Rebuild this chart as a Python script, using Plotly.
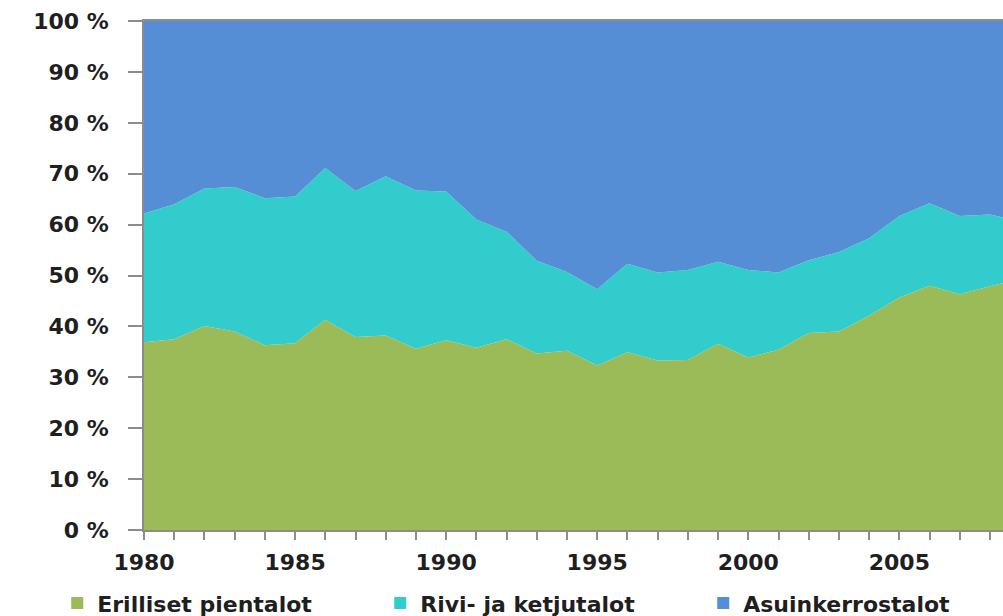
import plotly.graph_objects as go

years = list(range(1980, 2010))
erilliset = [36.9, 37.5, 40.1, 39.0, 36.3, 36.7, 41.3, 37.9, 38.2, 35.6,
             37.3, 35.8, 37.5, 34.7, 35.2, 32.3, 34.9, 33.3, 33.4, 36.6,
             33.9, 35.4, 38.7, 39.0, 42.1, 45.7, 48.0, 46.3, 47.9, 49.2]
rivi = [25.3, 26.5, 27.0, 28.4, 28.9, 28.8, 29.8, 28.7, 31.3, 31.1,
        29.2, 25.2, 21.1, 18.2, 15.5, 15.0, 17.4, 17.3, 17.7, 16.1,
        17.2, 15.2, 14.3, 15.6, 15.2, 16.0, 16.2, 15.4, 14.1, 11.4]
kerros = [37.8, 36.0, 32.9, 32.6, 34.8, 34.5, 28.9, 33.4, 30.5, 33.3,
          33.5, 39.0, 41.4, 47.1, 49.3, 52.7, 47.7, 49.4, 48.9, 47.3,
          48.9, 49.4, 47.0, 45.4, 42.7, 38.3, 35.8, 38.3, 38.0, 39.4]

series_names = ["Erilliset pientalot", "Rivi- ja ketjutalot", "Asuinkerrostalot"]
series_colors = ["#9BBB59", "#33CCCC", "#558ED5"]
y_tickvals = list(range(0, 101, 10))
y_ticktext = [f"{v} %" for v in y_tickvals]

AXIS_GRAY = "#8c8c8c"
FONT = dict(family="DejaVu Sans", size=22, color="#1f1f1f", weight="bold")

fig = go.Figure()
for i, (name, vals, col) in enumerate(zip(series_names, [erilliset, rivi, kerros], series_colors)):
    kw = dict(groupnorm="percent") if i == 0 else {}
    fig.add_trace(go.Scatter(
        x=years, y=vals, name=name, stackgroup="one", mode="none",
        fillcolor=col, line=dict(width=0), showlegend=False,
        hoverinfo="x+y+name", **kw))

for name, col in zip(series_names, series_colors):
    fig.add_trace(go.Scatter(
        x=[None], y=[None], mode="markers", name=name,
        marker=dict(symbol="square", size=16, color=col)))

fig.update_layout(
    width=1003, height=616,
    margin=dict(l=144, r=0, t=21, b=86, autoexpand=False),
    plot_bgcolor="white", paper_bgcolor="white",
    font=FONT,
    xaxis=dict(
        range=[1980, 2008.43], tickmode="linear", tick0=1980, dtick=5,
        tickformat="d", ticks="outside", ticklen=8, tickwidth=1.5,
        tickcolor=AXIS_GRAY, showline=True, linecolor=AXIS_GRAY,
        linewidth=1.5, mirror=True, showgrid=False, zeroline=False,
        minor=dict(dtick=1, ticks="outside", ticklen=8, tickwidth=1.5,
                   tickcolor=AXIS_GRAY, showgrid=False),
        ticklabelstandoff=4, automargin=False, tickfont=FONT),
    yaxis=dict(
        range=[0, 100], tickmode="array", tickvals=y_tickvals,
        ticktext=y_ticktext, ticks="outside", ticklen=14, tickwidth=1.5,
        tickcolor=AXIS_GRAY, showline=True, linecolor=AXIS_GRAY,
        linewidth=1.5, showgrid=False, zeroline=False,
        ticklabelstandoff=15, automargin=False, tickfont=FONT),
    legend=dict(orientation="h", x=-0.101, xanchor="left",
                y=-0.185, yanchor="bottom", entrywidth=278,
                traceorder="normal",
                font=FONT, itemsizing="constant",
                bgcolor="rgba(0,0,0,0)"),
    showlegend=True,
)

fig.write_html("out.html")
